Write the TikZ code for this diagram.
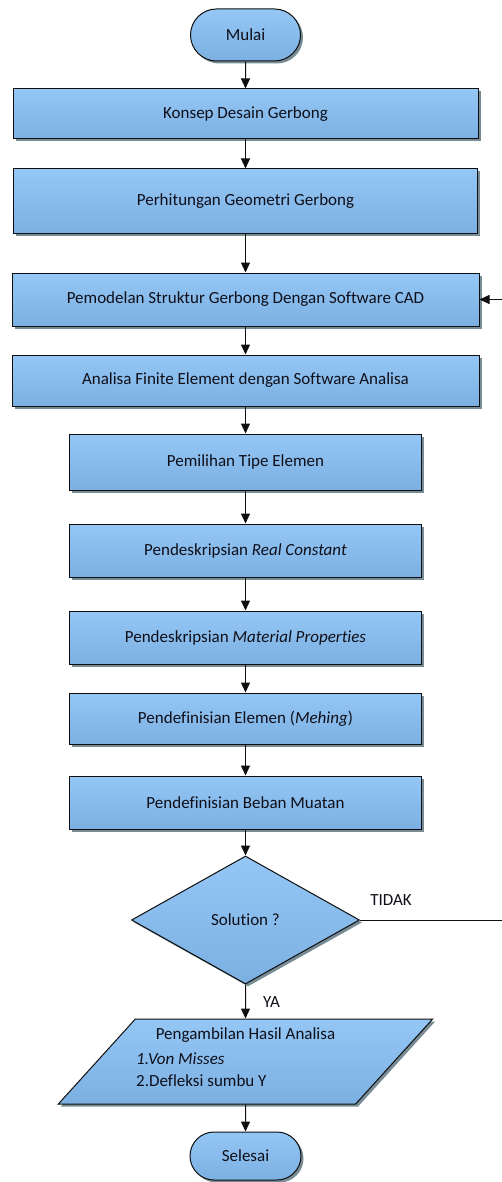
\documentclass[tikz,border=0pt]{standalone}
\usepackage{fontspec}
\setmainfont[Ligatures={NoCommon,NoRequired,NoContextual},RawFeature={-calt}]{Carlito}
\usetikzlibrary{shapes.geometric,shapes.misc,shadows,arrows.meta}
\definecolor{topc}{RGB}{148,199,245}
\definecolor{botc}{RGB}{124,176,226}
\definecolor{shadc}{RGB}{120,140,150}
\definecolor{linec}{RGB}{15,15,15}
\definecolor{txtc}{RGB}{15,15,25}
\begin{document}
\begin{tikzpicture}[x=1pt,y=-1pt,
  base/.style={draw=linec, line width=1pt, top color=topc, bottom color=botc,
    drop shadow={shadow xshift=2.5pt,shadow yshift=-2.5pt,fill=shadc,opacity=1},
    font=\fontsize{17}{20}\selectfont, text=txtc, inner sep=0pt},
  procbox/.style={base, rectangle},
  termbox/.style={base, rounded rectangle},
  decbox/.style={base, diamond, aspect=1.78},
  iobox/.style={base, trapezium, trapezium left angle=66.5, trapezium right angle=113.5, trapezium stretches=true, inner sep=2pt},
  lbl/.style={font=\fontsize{17}{20}\selectfont, text=txtc, inner sep=0pt},
  arr/.style={draw=linec, line width=1pt, -{Triangle[length=10pt,width=9pt]}}]
\useasboundingbox (0,0) rectangle (501,1182);

\node[termbox, minimum width=110pt, minimum height=52pt] (s) at (245.5,35) {Mulai};
\node[procbox, minimum width=465pt, minimum height=50pt] (b1) at (245.5,114) {Konsep Desain Gerbong};
\node[procbox, minimum width=464pt, minimum height=65pt] (b2) at (245.5,201.5) {Perhitungan Geometri Gerbong};
\node[procbox, minimum width=467pt, minimum height=53pt] (b3) at (245.5,299.5) {Pemodelan Struktur Gerbong Dengan Software CAD};
\node[procbox, minimum width=467pt, minimum height=51pt] (b4) at (245.5,380.5) {Analisa Finite Element dengan Software Analisa};
\node[procbox, minimum width=352pt, minimum height=56pt] (b5) at (245.5,462) {Pemilihan Tipe Elemen};
\node[procbox, minimum width=352pt, minimum height=53pt] (b6) at (245.5,550.5) {Pendeskripsian \textit{Real Constant}};
\node[procbox, minimum width=352pt, minimum height=53pt] (b7) at (245.5,637.5) {Pendeskripsian \textit{Material Properties}};
\node[procbox, minimum width=352pt, minimum height=51pt] (b8) at (245.5,718.5) {Pendefinisian Elemen (\textit{Mehing})};
\node[procbox, minimum width=352pt, minimum height=53pt] (b9) at (245.5,802.5) {Pendefinisian Beban Muatan};
\node[decbox, minimum width=228pt, minimum height=128pt] (d) at (245.5,920) {Solution ?};
\node[iobox, minimum width=375pt, minimum height=85pt] (p) at (245.5,1061.5) {\phantom{M}};
\node[lbl] (p1) at (245.5,1035) {Pengambilan Hasil Analisa};
\node[lbl, anchor=west] (p2) at (136,1059) {\itshape 1.Von Misses};
\node[lbl, anchor=west] (p3) at (136,1081) {2.Defleksi sumbu Y};
\node[termbox, minimum width=111pt, minimum height=48pt] (e) at (245.5,1156) {Selesai};

\node[lbl] (tidak) at (391,900) {TIDAK};
\node[lbl] (ya) at (271.5,1002) {YA};
\coordinate (fb) at (504,920);

\draw[arr] (s) -- (b1);
\draw[arr] (b1) -- (b2);
\draw[arr] (b2) -- (b3);
\draw[arr] (b3) -- (b4);
\draw[arr] (b4) -- (b5);
\draw[arr] (b5) -- (b6);
\draw[arr] (b6) -- (b7);
\draw[arr] (b7) -- (b8);
\draw[arr] (b8) -- (b9);
\draw[arr] (b9) -- (d);
\draw[arr] (d) -- (p);
\draw[arr] (p) -- (e);
\draw[arr] (d.east) -- (fb) |- (b3.east);
\end{tikzpicture}
\end{document}
